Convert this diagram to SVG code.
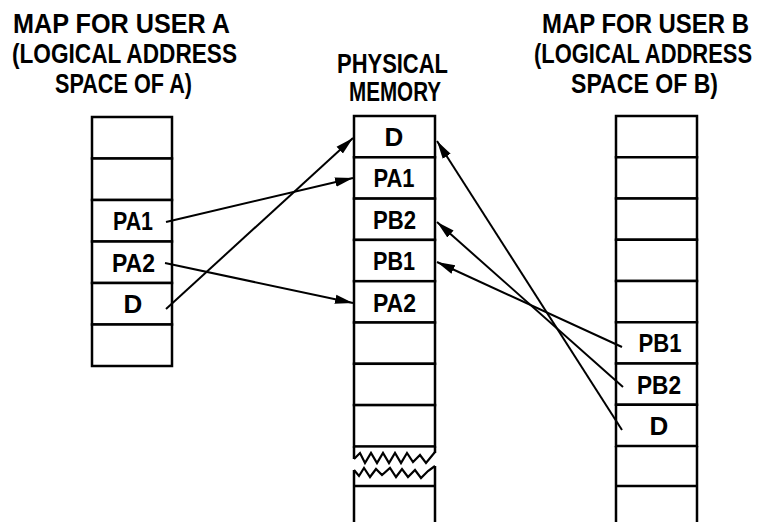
<svg xmlns="http://www.w3.org/2000/svg" width="765" height="522" viewBox="0 0 765 522">
  <style>
    .title { font-family: "Liberation Sans", Arial, sans-serif; font-weight: bold; font-size: 27px; fill: #000; }
    .lbl { font-family: "Liberation Sans", Arial, sans-serif; font-weight: bold; font-size: 26px; fill: #000; text-anchor: middle; }
    .cell { fill: #fff; stroke: #000; stroke-width: 2.5; }
    .side { fill: none; stroke: #000; stroke-width: 2.5; }
    .wig { fill: none; stroke: #000; stroke-width: 2.2; stroke-linejoin: miter; }
    .arrow { fill: none; stroke: #000; stroke-width: 2; marker-end: url(#head); }
  </style>
  <defs>
    <marker id="head" markerUnits="userSpaceOnUse" markerWidth="19" markerHeight="11" refX="18" refY="5.5" orient="auto">
      <path d="M0,0.8 L18,5.5 L0,10.2 Z" fill="#000"/>
    </marker>
  </defs>
  <rect width="765" height="522" fill="#fff"/>

  <!-- headings -->
  <g id="title-a">
    <text class="title" x="13" y="33" textLength="217" lengthAdjust="spacingAndGlyphs">MAP FOR USER A</text>
    <text class="title" x="12" y="63" textLength="225" lengthAdjust="spacingAndGlyphs">(LOGICAL ADDRESS</text>
    <text class="title" x="55" y="93" textLength="137" lengthAdjust="spacingAndGlyphs">SPACE OF A)</text>
  </g>
  <g id="title-mem">
    <text class="title" x="337" y="73" textLength="111" lengthAdjust="spacingAndGlyphs">PHYSICAL</text>
    <text class="title" x="349" y="101" textLength="92" lengthAdjust="spacingAndGlyphs">MEMORY</text>
  </g>
  <!-- right-hand heading: smaller face stretched vertically to keep it inside the page -->
  <g id="title-b">
    <text class="title" style="font-size:24px" transform="translate(542,33) scale(1,1.125)" textLength="207" lengthAdjust="spacingAndGlyphs">MAP FOR USER B</text>
    <text class="title" style="font-size:22px" transform="translate(534,63) scale(1,1.23)" textLength="218" lengthAdjust="spacingAndGlyphs">(LOGICAL ADDRESS</text>
    <text class="title" style="font-size:24px" transform="translate(571,93) scale(1,1.125)" textLength="147" lengthAdjust="spacingAndGlyphs">SPACE OF B)</text>
  </g>

  <!-- logical address space of user A -->
  <g id="map-a">
    <rect class="cell" x="92" y="117" width="80" height="41.5"/>
    <rect class="cell" x="92" y="158.5" width="80" height="41.5"/>
    <rect class="cell" x="92" y="200" width="80" height="41.5"/>
    <rect class="cell" x="92" y="241.5" width="80" height="41.5"/>
    <rect class="cell" x="92" y="283" width="80" height="41.5"/>
    <rect class="cell" x="92" y="324.5" width="80" height="41.5"/>
    <text class="lbl" x="133" y="230" textLength="40" lengthAdjust="spacingAndGlyphs">PA1</text>
    <text class="lbl" x="133.5" y="271.5" textLength="43" lengthAdjust="spacingAndGlyphs">PA2</text>
    <text class="lbl" x="133" y="313">D</text>
  </g>

  <!-- physical memory -->
  <g id="memory">
    <rect class="cell" x="354" y="116" width="81" height="41.3"/>
    <rect class="cell" x="354" y="157.3" width="81" height="41.3"/>
    <rect class="cell" x="354" y="198.6" width="81" height="41.3"/>
    <rect class="cell" x="354" y="239.9" width="81" height="41.3"/>
    <rect class="cell" x="354" y="281.2" width="81" height="41.3"/>
    <rect class="cell" x="354" y="322.5" width="81" height="41.3"/>
    <rect class="cell" x="354" y="363.8" width="81" height="41.3"/>
    <rect class="cell" x="354" y="405.1" width="81" height="41.3"/>
    <!-- torn section -->
    <path class="side" d="M354,446.4 V459 M435,446.4 V453 M354,470 V522 M435,466 V522 M354,486 H435"/>
    <path class="wig" d="M354,459 L360,453 L365,463 L371,453 L377,463 L383,453 L389,463 L395,453 L401,463 L407,453 L413,462 L420,455 L426,463 L435,452"/>
    <path class="wig" d="M354,470 L359,476 L364,468 L370,477 L376,469 L382,475 L390,468 L396,477 L402,469 L408,477 L415,470 L421,478 L428,471 L435,466"/>
    <text class="lbl" x="394" y="146">D</text>
    <text class="lbl" x="394" y="187" textLength="41" lengthAdjust="spacingAndGlyphs">PA1</text>
    <text class="lbl" x="394.5" y="228.5" textLength="43" lengthAdjust="spacingAndGlyphs">PB2</text>
    <text class="lbl" x="394" y="270" textLength="42" lengthAdjust="spacingAndGlyphs">PB1</text>
    <text class="lbl" x="394.5" y="311.5" textLength="43" lengthAdjust="spacingAndGlyphs">PA2</text>
  </g>

  <!-- logical address space of user B -->
  <g id="map-b">
    <rect class="cell" x="616" y="116" width="81" height="41.25"/>
    <rect class="cell" x="616" y="157.25" width="81" height="41.25"/>
    <rect class="cell" x="616" y="198.5" width="81" height="41.25"/>
    <rect class="cell" x="616" y="239.75" width="81" height="41.25"/>
    <rect class="cell" x="616" y="281" width="81" height="41.25"/>
    <rect class="cell" x="616" y="322.25" width="81" height="41.25"/>
    <rect class="cell" x="616" y="363.5" width="81" height="41.25"/>
    <rect class="cell" x="616" y="404.75" width="81" height="41.25"/>
    <path class="side" d="M616,446 V522 M697,446 V522 M616,486 H697"/>
    <text class="lbl" x="660" y="352" textLength="43" lengthAdjust="spacingAndGlyphs">PB1</text>
    <text class="lbl" x="659" y="393.5" textLength="44" lengthAdjust="spacingAndGlyphs">PB2</text>
    <text class="lbl" x="659" y="435">D</text>
  </g>

  <!-- page mappings -->
  <g id="connectors">
    <line class="arrow" x1="166" y1="222" x2="353" y2="178"/>
    <line class="arrow" x1="165" y1="263" x2="353" y2="303"/>
    <line class="arrow" x1="166" y1="309" x2="353" y2="138"/>
    <line class="arrow" x1="622" y1="347" x2="437" y2="262"/>
    <line class="arrow" x1="623" y1="387" x2="437" y2="222"/>
    <line class="arrow" x1="622" y1="430" x2="437" y2="141"/>
  </g>
</svg>
